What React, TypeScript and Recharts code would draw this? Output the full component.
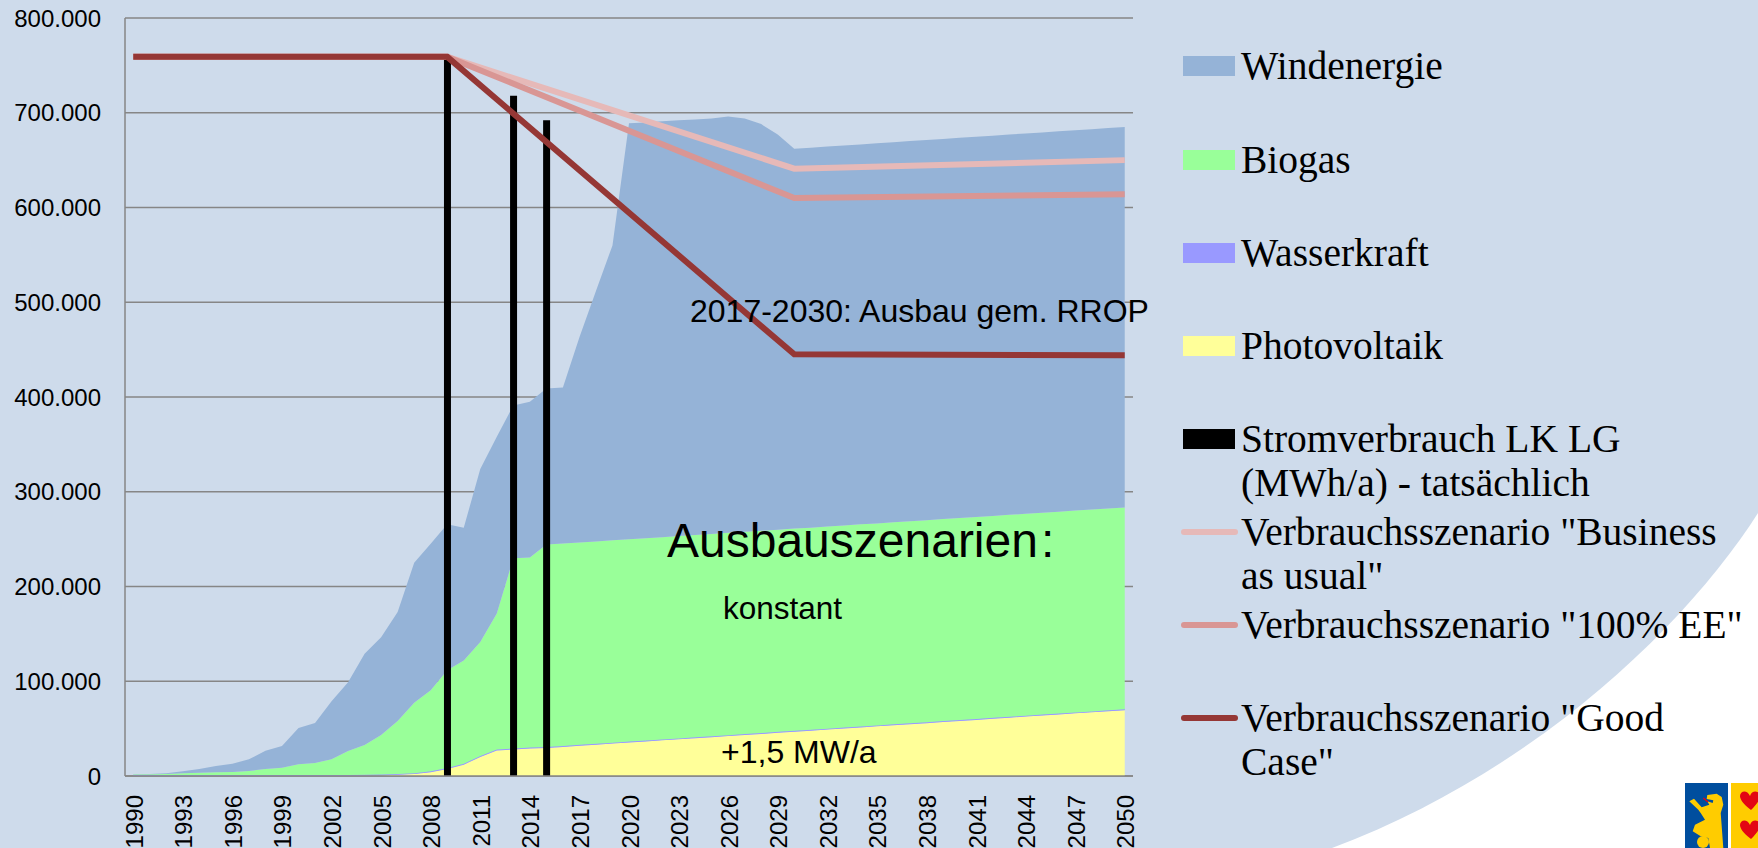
import { Area, Bar, CartesianGrid, ComposedChart, Line, XAxis, YAxis } from 'recharts';

// values in MWh/a (in thousands, see toMWh)
const years = Array.from({ length: 61 }, (_, i) => String(1990 + i));

const photovoltaik = [
  0, 0, 0, 0, 0, 0, 0, 0, 0, 0, 0, 0, 0, 0.1, 0.3, 0.6, 1.2, 2, 4, 7.5, 12, 20, 27, 28, 29, 29.6,
  30.7, 31.9, 33, 34.2, 35.3, 36.4, 37.6, 38.7, 39.9, 41, 42.1, 43.3, 44.4, 45.6, 46.7, 47.8, 49, 50.1,
  51.3, 52.4, 53.5, 54.7, 55.8, 57, 58.1, 59.2, 60.4, 61.5, 62.7, 63.8, 64.9, 66.1, 67.2, 68.3, 69.4,
];
const wasserkraft = Array.from({ length: 61 }, () => 1);
const biogas = [
  0.5, 0.8, 1.2, 1.8, 2.4, 2.9, 3.3, 4.3, 6.4, 7.8, 11.3, 12.7, 16.6, 25.3, 31.4, 41.7, 55.8, 74.4, 85.5,
  103.1, 109, 120.5, 143.4, 200.8, 200.5, 213.7, 213.7, 213.6, 213.6, 213.6, 213.6, 213.6, 213.5, 213.5,
  213.5, 213.5, 213.5, 213.4, 213.4, 213.4, 213.4, 213.3, 213.3, 213.3, 213.3, 213.2, 213.2, 213.2, 213.2,
  213.2, 213.1, 213.1, 213.1, 213.1, 213.1, 213, 213, 213, 213, 213, 213,
];
const windenergie = [
  0, 0.2, 0.6, 2.2, 4, 6.7, 8.7, 12.3, 19.3, 22.9, 38.4, 42.3, 61.4, 72.6, 96.3, 103.1, 115, 147.6, 154.5,
  154.2, 140, 182.5, 186.6, 161.2, 164.5, 164.6, 164.6, 216.5, 264.4, 311.2, 438.9, 438.8, 438.9, 438.8,
  438.6, 438.5, 439.4, 436.3, 429.2, 417, 400.9, 400.9, 401, 401, 401, 401.1, 401.1, 401.2, 401.2, 401.2,
  401.3, 401.3, 401.3, 401.4, 401.4, 401.4, 401.5, 401.5, 401.5, 401.6, 401.6,
];

// measured consumption only exists for three years
const tatsaechlich: Record<string, number> = { 2009: 759, 2013: 718, 2015: 692 };

// scenario lines are straight between their anchor years
const businessAsUsual: Record<string, number> = { 1990: 759, 2009: 759, 2030: 641, 2050: 650 };
const hundertProzentEE: Record<string, number> = { 1990: 759, 2009: 759, 2030: 610, 2050: 614 };
const goodCase: Record<string, number> = { 1990: 759, 2009: 759, 2030: 445, 2050: 444 };

const yTicks = [0, 100000, 200000, 300000, 400000, 500000, 600000, 700000, 800000];

const toMWh = (v?: number) => (v === undefined ? null : v * 1000);

const data = years.map((year, i) => ({
  year,
  photovoltaik: toMWh(photovoltaik[i]),
  wasserkraft: toMWh(wasserkraft[i]),
  biogas: toMWh(biogas[i]),
  windenergie: toMWh(windenergie[i]),
  tatsaechlich: toMWh(tatsaechlich[year]),
  business: toMWh(businessAsUsual[year]),
  ee: toMWh(hundertProzentEE[year]),
  good: toMWh(goodCase[year]),
}));

const SANS = '"Liberation Sans", Arial, sans-serif';
const AXIS_GREY = '#868686';

const legendItems = [
  { top: 66, kind: 'box', color: '#95B3D7', lines: ['Windenergie'] },
  { top: 160, kind: 'box', color: '#99FF99', lines: ['Biogas'] },
  { top: 253, kind: 'box', color: '#9999FF', lines: ['Wasserkraft'] },
  { top: 346, kind: 'box', color: '#FFFF99', lines: ['Photovoltaik'] },
  { top: 439, kind: 'box', color: '#000000', lines: ['Stromverbrauch LK LG', '(MWh/a) - tatsächlich'] },
  { top: 532, kind: 'line', color: '#E6B9B8', lines: ['Verbrauchsszenario "Business', 'as usual"'] },
  { top: 625, kind: 'line', color: '#D99694', lines: ['Verbrauchsszenario "100% EE"'] },
  { top: 718, kind: 'line', color: '#953735', lines: ['Verbrauchsszenario "Good', 'Case"'] },
];

function YearTick({ x, y, payload }: any) {
  return (
    <text
      transform={`translate(${x + 9.5},${y + 11}) rotate(-90)`}
      textAnchor="end"
      fontFamily={SANS}
      fontSize={24}
      fill="#000"
    >
      {payload.value}
    </text>
  );
}

function ChartLegend() {
  return (
    <>
      {legendItems.map((item) => (
        <div key={item.lines[0]}>
          <div
            style={
              item.kind === 'box'
                ? { position: 'absolute', left: 1183, top: item.top - 10, width: 52, height: 20, background: item.color }
                : { position: 'absolute', left: 1181, top: item.top - 3, width: 57, height: 6, borderRadius: 3, background: item.color }
            }
          />
          {item.lines.map((line, n) => (
            <div
              key={line}
              style={{
                position: 'absolute',
                left: 1241,
                top: item.top - 22 + n * 44,
                lineHeight: '44px',
                fontFamily: '"Liberation Serif", serif',
                fontSize: 39.5,
                color: '#000',
                whiteSpace: 'nowrap',
              }}
            >
              {line}
            </div>
          ))}
        </div>
      ))}
    </>
  );
}

function Wappen() {
  return (
    <svg width={73} height={65} style={{ position: 'absolute', left: 1685, top: 783 }}>
      <rect x={0} y={0} width={43} height={65} fill="#004E9E" />
      <path
        d="M4.3 18.3 L9 15.7 L16.7 24.3 L24.3 21.7 L22.3 18.3 L27.7 20 L28.3 17.3 L21.7 16 L22.3 12 L31.7 10.7 L36.7 14 L38.3 21.7 L35.7 30 L36.7 43.3 L38.3 65 L25 65 L23.3 55 L15.7 53.3 L7.7 48.3 L10 41.7 L20 36.7 L15.7 30 L13.3 26.7 Z"
        fill="#FFCC00"
      />
      <circle cx={18} cy={59} r={6} fill="#FFCC00" />
      <path d="M18.3 15 L23 19" stroke="#E30613" strokeWidth={1.5} />
      <rect x={46} y={0} width={27} height={65} fill="#FFCC00" />
      <path d="M66 27 C58 21 55 16 55 13 C55 8 62 6 65 13 C67 6 75 8 75 13 C75 17 71 22 66 27 Z" fill="#E30613" />
      <path d="M66 56 C58 50 55 45 55 42 C55 37 62 35 65 42 C67 35 75 37 75 42 C75 46 71 51 66 56 Z" fill="#E30613" />
    </svg>
  );
}

export default function App() {
  return (
    <div style={{ position: 'fixed', left: 0, top: 0, width: 1758, height: 848, background: '#fff', overflow: 'hidden' }}>
      {/* light blue slide background with the curved corner */}
      <svg width={1758} height={848} style={{ position: 'absolute', left: 0, top: 0 }}>
        <path d="M0 0 H1758 V513 C1690 620 1540 770 1332 848 H0 Z" fill="#CEDBEB" />
      </svg>

      <div style={{ position: 'absolute', left: 0, top: 0 }}>
        <ComposedChart width={1758} height={848} data={data} margin={{ top: 18, right: 625, bottom: 0, left: 0 }}>
          <CartesianGrid vertical={false} stroke={AXIS_GREY} strokeWidth={1.5} />
          <XAxis
            dataKey="year"
            height={72}
            interval={2}
            tickLine={false}
            stroke={AXIS_GREY}
            strokeWidth={1.5}
            tick={YearTick}
          />
          <YAxis
            width={125}
            domain={[0, 800000]}
            ticks={yTicks}
            tickLine={false}
            tickMargin={18}
            stroke={AXIS_GREY}
            strokeWidth={1.5}
            tickFormatter={(v: number) => v.toLocaleString('de-DE')}
            tick={{ fill: '#000', fontFamily: SANS, fontSize: 24 }}
          />
          <Area dataKey="photovoltaik" stackId="ee" stroke="none" fill="#FFFF99" fillOpacity={1} isAnimationActive={false} />
          <Area dataKey="wasserkraft" stackId="ee" stroke="#9999FF" strokeWidth={1} fill="#9999FF" fillOpacity={1} isAnimationActive={false} />
          <Area dataKey="biogas" stackId="ee" stroke="none" fill="#99FF99" fillOpacity={1} isAnimationActive={false} />
          <Area dataKey="windenergie" stackId="ee" stroke="none" fill="#95B3D7" fillOpacity={1} isAnimationActive={false} />
          <Bar dataKey="tatsaechlich" barSize={7} fill="#000" isAnimationActive={false} />
          <Line dataKey="business" connectNulls dot={false} stroke="#E6B9B8" strokeWidth={6} isAnimationActive={false} />
          <Line dataKey="ee" connectNulls dot={false} stroke="#D99694" strokeWidth={6} isAnimationActive={false} />
          <Line dataKey="good" connectNulls dot={false} stroke="#953735" strokeWidth={6} isAnimationActive={false} />
        </ComposedChart>
      </div>

      {/* annotations typed on top of the chart on the slide */}
      <svg width={1758} height={848} style={{ position: 'absolute', left: 0, top: 0 }} fontFamily={SANS} fill="#000">
        <text x={690} y={322} fontSize={32}>2017-2030: Ausbau gem. RROP</text>
        <text x={667} y={557} fontSize={48}>Ausbauszenarien<tspan dx={3}>:</tspan></text>
        <text x={723} y={619} fontSize={31.5}>konstant</text>
        <text x={721} y={763} fontSize={32}>+1,5 MW/a</text>
      </svg>

      <ChartLegend />
      <Wappen />
    </div>
  );
}
